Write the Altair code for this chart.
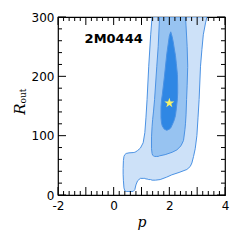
import altair as alt
import pandas as pd

# ---- contour regions (p, lower R, upper R) ----
outer_p = [0.34, 0.35, 0.37, 0.40, 0.45, 0.55, 0.70, 0.76, 0.80, 0.86, 0.96, 1.06, 1.12, 1.16, 1.20, 1.26,
           1.33, 1.38, 1.50, 1.67, 1.90, 2.09, 2.35, 2.63, 2.75, 2.81, 2.87, 2.93, 2.99, 3.03, 3.07, 3.12,
           3.17, 3.22, 3.30, 3.35]
outer_lo = [35, 24, 12, 7, 6, 6, 6, 9, 17, 24, 28, 28, 28, 27, 27, 26,
            26, 25, 25, 26, 30, 34, 38, 43, 48, 54, 65, 78, 100, 130, 161, 217,
            245, 270, 290, 300]
outer_hi = [45, 58, 65, 68, 70, 71, 71.5, 72, 73, 75, 79, 88, 105, 130, 161, 217,
            270, 300, 300, 300, 300, 300, 300, 300, 300, 300, 300, 300, 300, 300, 300, 300,
            300, 300, 300, 300]

mid_p = [1.36, 1.38, 1.40, 1.43, 1.47, 1.55, 1.60, 1.65, 1.85, 2.10, 2.27, 2.42, 2.51, 2.56, 2.58, 2.60,
         2.62, 2.64, 2.66]
mid_lo = [78, 70, 67, 66, 65, 65, 65, 66, 68, 72, 76, 83, 92, 110, 120, 135,
          161, 185, 215]
mid_hi = [98, 115, 127, 140, 161, 217, 250, 300, 300, 300, 300, 300, 300, 300, 300, 285,
          268, 250, 219]

core_p = [1.70, 1.72, 1.75, 1.82, 1.91, 2.00, 2.05, 2.10, 2.14, 2.18, 2.22, 2.25, 2.29, 2.30]
core_lo = [130, 121, 116, 111, 109, 111, 113, 118, 122, 127, 134, 145, 162, 172]
core_hi = [148, 160, 170, 198, 238, 268, 275, 267, 258, 246, 235, 222, 203, 185]

best_p = [2.0]
best_r = [155]

label_text = ["2M0444"]
label_p = [0.0]
label_r = [263]

x_major = [-2, -1, 0, 1, 2, 3, 4]
x_minor = [-1.8, -1.6, -1.4, -1.2, -0.8, -0.6, -0.4, -0.2, 0.2, 0.4, 0.6, 0.8,
           1.2, 1.4, 1.6, 1.8, 2.2, 2.4, 2.6, 2.8, 3.2, 3.4, 3.6, 3.8]
y_major = [0, 100, 200, 300]
y_minor = [20, 40, 60, 80, 120, 140, 160, 180, 220, 240, 260, 280]

W, H = 167, 178
XS = alt.Scale(domain=[-2, 4], nice=False, zero=False)
YS = alt.Scale(domain=[0, 300], nice=False, zero=False)
EDGE = "#4b92e4"
STAR = ("M0,-1L0.225,-0.309L0.951,-0.309L0.363,0.118L0.588,0.809L0,0.382"
        "L-0.588,0.809L-0.363,0.118L-0.951,-0.309L-0.225,-0.309Z")

xaxis = alt.Axis(values=x_major, labelExpr="datum.value + ''", labelFont="DejaVu Sans", labelFontSize=12,
                 labelColor="black", labelPadding=5, ticks=False, domain=False, grid=False,
                 labelOverlap=False, labelFlush=False, labelBound=False,
                 title="p", titleFont="DejaVu Serif", titleFontStyle="italic", titleFontWeight="normal",
                 titleFontSize=14, titleColor="black", titlePadding=4)
yaxis = alt.Axis(values=y_major, labelFont="DejaVu Sans", labelFontSize=12, labelColor="black",
                 labelPadding=4, ticks=False, domain=False, grid=False,
                 labelOverlap=False, labelFlush=False, labelBound=False, title="")


def region(ps, lo, hi, fill, first=False):
    df = pd.DataFrame({"p": ps, "lo": lo, "hi": hi})
    if first:
        ex = alt.X("p:Q", scale=XS, axis=xaxis)
        ey = alt.Y("lo:Q", scale=YS, axis=yaxis)
    else:
        ex = alt.X("p:Q", scale=XS)
        ey = alt.Y("lo:Q", scale=YS)
    return alt.Chart(df).mark_area(orient="vertical", color=fill, stroke=EDGE, strokeWidth=1,
                                   opacity=1, clip=True).encode(x=ex, y=ey, y2="hi:Q")


outer = region(outer_p, outer_lo, outer_hi, "#cde1f8", first=True)
mid = region(mid_p, mid_lo, mid_hi, "#97c3f1")
core = region(core_p, core_lo, core_hi, "#2f87e4")

star = alt.Chart(pd.DataFrame({"p": best_p, "R": best_r})).mark_point(
    shape=STAR, filled=True, color="#f8f46a", opacity=1, size=110
).encode(x=alt.X("p:Q", scale=XS), y=alt.Y("R:Q", scale=YS))

label = alt.Chart(pd.DataFrame({"t": label_text, "p": label_p, "R": label_r})).mark_text(
    font="DejaVu Sans", fontWeight="bold", fontSize=13, color="black", align="center", baseline="middle"
).encode(x=alt.X("p:Q", scale=XS), y=alt.Y("R:Q", scale=YS), text="t:N")

xmaj = pd.DataFrame({"p": x_major})
xmin = pd.DataFrame({"p": x_minor})
ymaj = pd.DataFrame({"R": y_major})
ymin = pd.DataFrame({"R": y_minor})

tick_layers = []
for df, L in ((xmaj, 8), (xmin, 4)):
    tick_layers.append(alt.Chart(df).mark_rule(color="black", strokeWidth=1).encode(
        x=alt.X("p:Q", scale=XS), y=alt.value(H), y2=alt.value(H - L)))
    tick_layers.append(alt.Chart(df).mark_rule(color="black", strokeWidth=1).encode(
        x=alt.X("p:Q", scale=XS), y=alt.value(0), y2=alt.value(L)))
for df, L in ((ymaj, 8), (ymin, 4)):
    tick_layers.append(alt.Chart(df).mark_rule(color="black", strokeWidth=1).encode(
        y=alt.Y("R:Q", scale=YS), x=alt.value(0), x2=alt.value(L)))
    tick_layers.append(alt.Chart(df).mark_rule(color="black", strokeWidth=1).encode(
        y=alt.Y("R:Q", scale=YS), x=alt.value(W), x2=alt.value(W - L)))

ytitle_R = alt.Chart(pd.DataFrame({"t": ["R"]})).mark_text(
    font="DejaVu Serif", fontStyle="italic", fontSize=15, color="black", angle=270,
    align="center", baseline="middle"
).encode(x=alt.value(-38), y=alt.value(92), text="t:N")
ytitle_sub = alt.Chart(pd.DataFrame({"t": ["out"]})).mark_text(
    font="DejaVu Serif", fontSize=9, color="black", angle=270,
    align="center", baseline="middle"
).encode(x=alt.value(-35), y=alt.value(79), text="t:N")

chart = alt.layer(outer, mid, core, star, label, *tick_layers, ytitle_R, ytitle_sub).properties(
    width=W, height=H,
    background="white",
    autosize=alt.AutoSizeParams(type="none"),
    padding={"left": 50, "top": 9, "right": 7, "bottom": 42},
).configure_view(stroke="black", strokeWidth=1.2)

chart.save("out.html", embed_options={"renderer": "svg", "actions": False})
